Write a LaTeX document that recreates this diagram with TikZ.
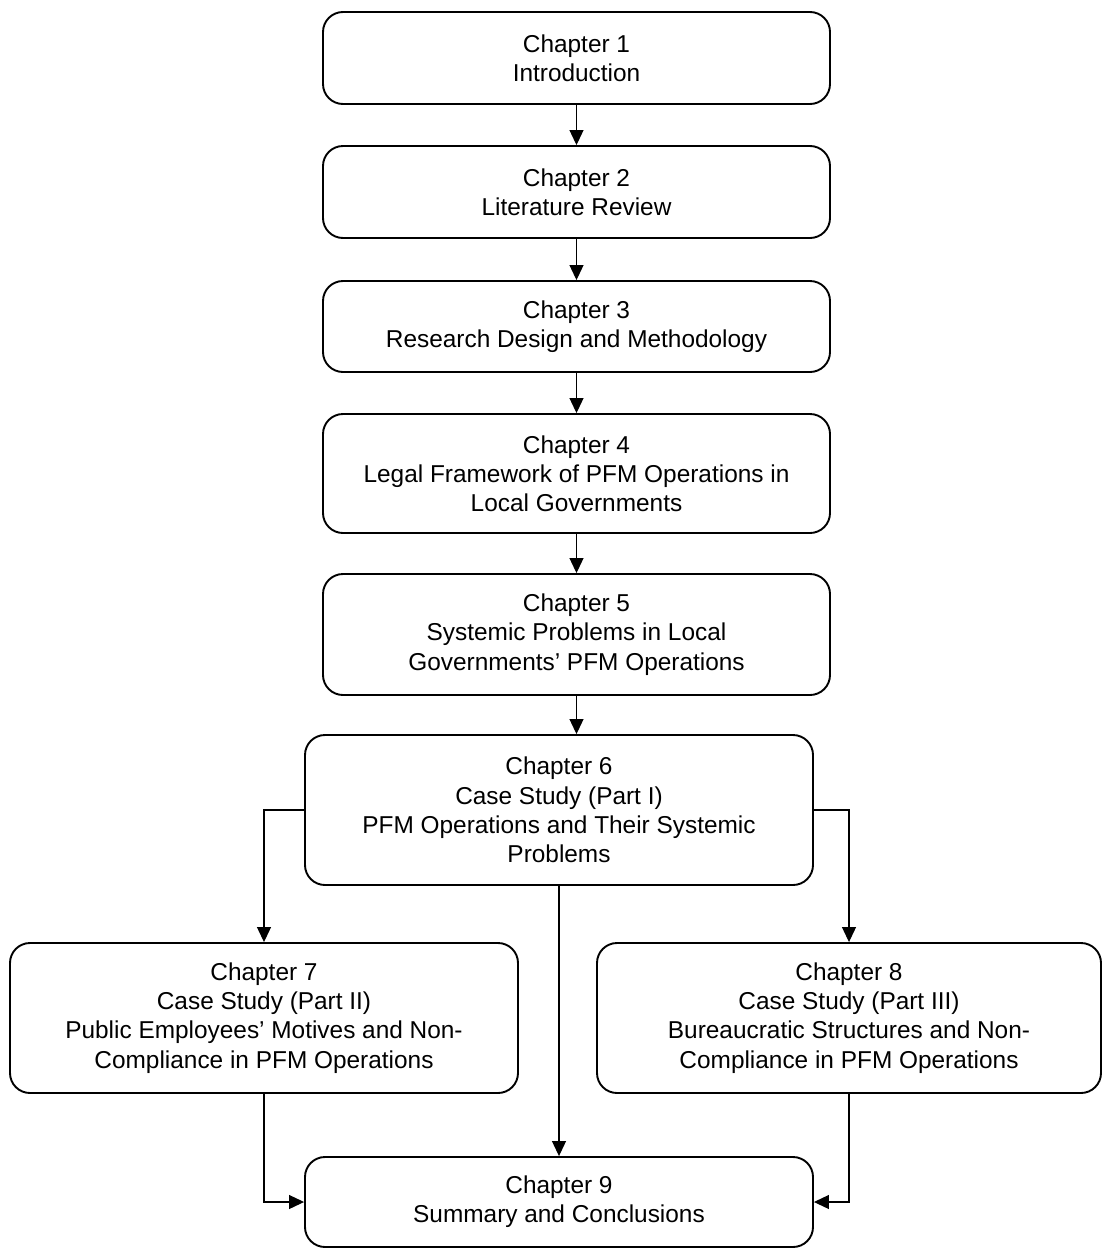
\documentclass[tikz,border=0pt]{standalone}
\usepackage{fontspec}
\setmainfont{Liberation Sans}
\usetikzlibrary{arrows.meta}
\begin{document}
\begin{tikzpicture}[x=0.5pt,y={(0pt,-0.5pt)},
  chbox/.style={draw=black, line width=0.95pt, rounded corners=10pt, fill=white,
    minimum width=253.5pt, inner sep=0pt, align=center,
    font=\fontsize{12.2pt}{14.6pt}\selectfont},
  link/.style={draw=black, line width=0.55pt,
    -{Triangle[length=7.5pt,width=7pt]}}]
\useasboundingbox (0,0) rectangle (1102,1248);

% chapter boxes, top to bottom
\node[chbox, minimum height=46pt]   (c1) at (576.5,58)    {Chapter 1\\Introduction};
\node[chbox, minimum height=46pt]   (c2) at (576.5,192)   {Chapter 2\\Literature Review};
\node[chbox, minimum height=45.5pt] (c3) at (576.5,326.5) {Chapter 3\\Research Design and Methodology};
\node[chbox, minimum height=59.5pt] (c4) at (576.5,473.5) {Chapter 4\\Legal Framework of PFM Operations in\\Local Governments};
\node[chbox, minimum height=60.5pt] (c5) at (576.5,634.5) {Chapter 5\\Systemic Problems in Local\\Governments’ PFM Operations};
\node[chbox, minimum height=75pt, minimum width=254pt] (c6) at (559,810)
  {Chapter 6\\Case Study (Part I)\\PFM Operations and Their Systemic\\Problems};
\node[chbox, minimum height=75pt, minimum width=254pt] (c7) at (264,1018)
  {Chapter 7\\Case Study (Part II)\\Public Employees’ Motives and Non-\\Compliance in PFM Operations};
\node[chbox, minimum height=75pt, minimum width=252pt] (c8) at (849,1018)
  {Chapter 8\\Case Study (Part III)\\Bureaucratic Structures and Non-\\Compliance in PFM Operations};
\node[chbox, minimum height=45pt, minimum width=254pt] (c9) at (559,1202)
  {Chapter 9\\Summary and Conclusions};

% sequential flow
\draw[link] (c1.south) -- (c2.north);
\draw[link] (c2.south) -- (c3.north);
\draw[link] (c3.south) -- (c4.north);
\draw[link] (c4.south) -- (c5.north);
\draw[link] (c5.south) -- (c5.south |- c6.north);

% branches from chapter 6
\draw[link] (c6.west) -| (c7.north);
\draw[link] (c6.east) -| (c8.north);
\draw[link] (c6.south) -- (c9.north);

% merge into chapter 9
\draw[link] (c7.south) |- (c9.west);
\draw[link] (c8.south) |- (c9.east);
\end{tikzpicture}
\end{document}
